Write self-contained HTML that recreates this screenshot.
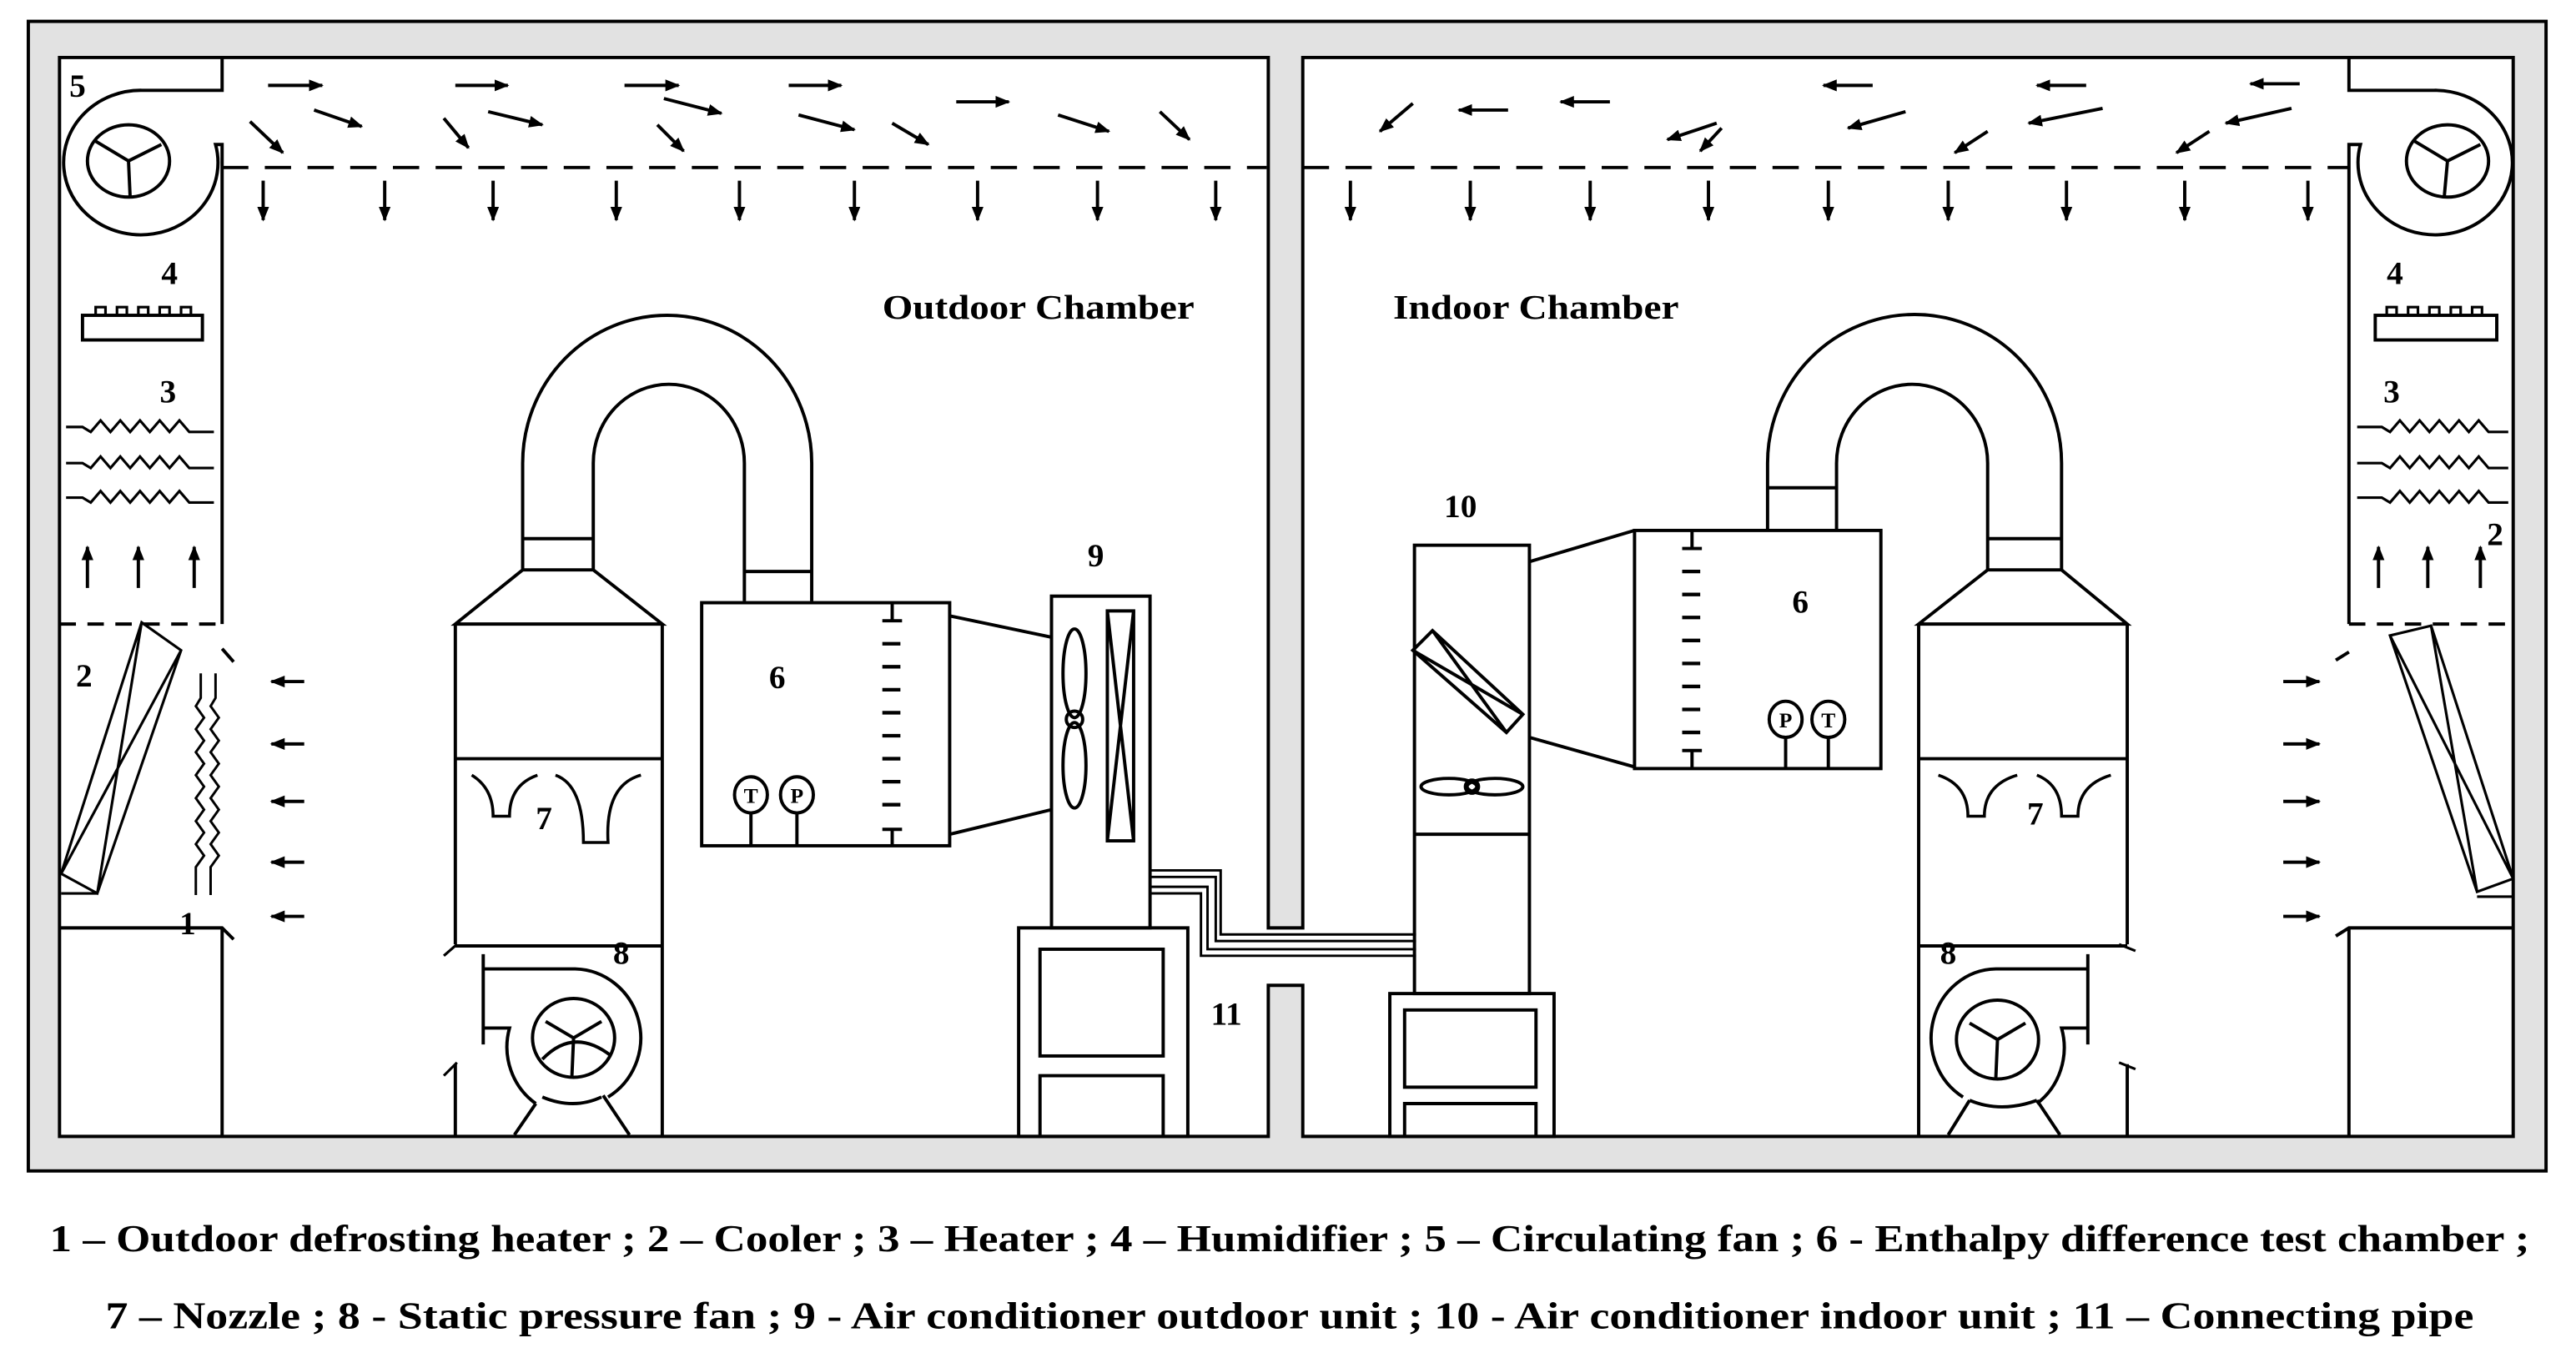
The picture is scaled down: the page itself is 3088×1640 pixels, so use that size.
<!DOCTYPE html>
<html><head><meta charset="utf-8"><style>
html,body{margin:0;padding:0;background:#fff;}
svg{display:block;}
text{font-family:"Liberation Serif",serif;font-weight:bold;fill:#000;}
</style></head><body>
<svg width="3088" height="1640" viewBox="0 0 1568 833" xmlns="http://www.w3.org/2000/svg">
<defs>
<marker id="ah" viewBox="0 0 10 10" refX="9" refY="5" markerWidth="4.5" markerHeight="4.5" orient="auto"><path d="M0,1 L10,5 L0,9 z" fill="#000"/></marker>
</defs>
<rect x="0" y="0" width="1568" height="833" fill="#fff"/>
<rect x="17" y="13" width="1533" height="700" fill="#e2e2e2" stroke="#000" stroke-width="2"/>
<rect x="36" y="35" width="736" height="657" fill="#fff"/>
<rect x="793" y="35" width="737" height="657" fill="#fff"/>
<rect x="771" y="565" width="23" height="35" fill="#fff"/>
<g fill="none" stroke="#000" stroke-width="2">
<path d="M36,692 V35 H772 V565 H793 V35 H1530 V692 H793 V600 H772 V692 Z"/>
<!-- left duct -->
<path d="M135,35 V55 H86 A47,44 0 1,0 131,88 H135 V380"/>
<path d="M135,102 H771" stroke-dasharray="16,10"/>
<path d="M36,380 H135" stroke-dasharray="10,7"/>
<path d="M135,395 L142,403"/>
<path d="M36,565 H135 L142,572 M135,565 V692"/>
<ellipse cx="78" cy="98" rx="25" ry="22"/>
<path d="M78,98 L58,86 M78,98 L98,88 M78,98 L79,120"/>
<rect x="50" y="192" width="73" height="15"/>
<path d="M58,192 v-5 h6 v5 M71,192 v-5 h6 v5 M84,192 v-5 h6 v5 M97,192 v-5 h6 v5 M110,192 v-5 h6 v5" stroke-width="1.6"/>
<path d="M40,260 H50 L55,263 L61,256 L67,263 L73,256 L79,263 L85,256 L91,263 L97,256 L103,263 L109,256 L115,263 H130" stroke-width="1.6"/>
<path d="M40,282 H50 L55,285 L61,278 L67,285 L73,278 L79,285 L85,278 L91,285 L97,278 L103,285 L109,278 L115,285 H130" stroke-width="1.6"/>
<path d="M40,303 H50 L55,306 L61,299 L67,306 L73,299 L79,306 L85,299 L91,306 L97,299 L103,306 L109,299 L115,306 H130" stroke-width="1.6"/>
<path d="M86,379 L110,396 L59,544 L37,532 Z M86,379 L59,544 M110,396 L37,532 M37,544 H59" stroke-width="1.6"/>
<path d="M122,410 V425 L119,430 L124,437 L119,444 L124,451 L119,458 L124,465 L119,472 L124,479 L119,486 L124,493 L119,500 L124,507 L119,514 L124,521 L119,528 V545" stroke-width="1.5"/>
<path d="M131,410 V425 L128,430 L133,437 L128,444 L133,451 L128,458 L133,465 L128,472 L133,479 L128,486 L133,493 L128,500 L133,507 L128,514 L133,521 L128,528 V545" stroke-width="1.5"/>
</g>
<g stroke="#000" stroke-width="2" fill="none" marker-end="url(#ah)">
<path d="M53,358 V333"/><path d="M84,358 V333"/><path d="M118,358 V333"/>
<path d="M185,415 H165"/><path d="M185,453 H165"/><path d="M185,488 H165"/><path d="M185,525 H165"/><path d="M185,558 H165"/>
<path d="M163,52 H196"/><path d="M277,52 H309"/><path d="M380,52 H413"/><path d="M480,52 H512"/><path d="M582,62 H614"/>
<path d="M152,74 L172,93"/><path d="M191,67 L220,77"/><path d="M270,72 L285,90"/><path d="M297,68 L330,76"/><path d="M400,76 L416,92"/><path d="M404,60 L439,69"/><path d="M486,70 L520,79"/><path d="M543,75 L565,88"/><path d="M644,70 L675,80"/><path d="M706,68 L724,85"/>
<path d="M160,110 V134"/><path d="M234,110 V134"/><path d="M300,110 V134"/><path d="M375,110 V134"/><path d="M450,110 V134"/><path d="M520,110 V134"/><path d="M595,110 V134"/><path d="M668,110 V134"/><path d="M740,110 V134"/>
<path d="M822,110 V134"/><path d="M895,110 V134"/><path d="M968,110 V134"/><path d="M1040,110 V134"/><path d="M1113,110 V134"/><path d="M1186,110 V134"/><path d="M1258,110 V134"/><path d="M1330,110 V134"/><path d="M1405,110 V134"/>
<path d="M1400,51 H1370"/><path d="M1270,52 H1240"/><path d="M1140,52 H1110"/><path d="M980,62 H950"/><path d="M918,67 H888"/>
<path d="M1395,66 L1355,75"/><path d="M1345,80 L1325,93"/><path d="M1280,66 L1235,75"/><path d="M1210,80 L1190,93"/><path d="M1160,68 L1125,78"/><path d="M1045,75 L1015,85"/><path d="M1048,78 L1035,92"/><path d="M860,63 L840,80"/>
<path d="M1448,358 V333"/><path d="M1478,358 V333"/><path d="M1510,358 V333"/>
<path d="M1390,415 H1412"/><path d="M1390,453 H1412"/><path d="M1390,488 H1412"/><path d="M1390,525 H1412"/><path d="M1390,558 H1412"/>
</g>
<g fill="none" stroke="#000" stroke-width="2">
<path d="M1430,35 V55 H1482 A47,44 0 1,1 1437,88 H1430 V380"/>
<path d="M793,102 H1430" stroke-dasharray="16,10"/>
<path d="M1430,380 H1530" stroke-dasharray="10,7"/>
<path d="M1430,397 L1422,402"/>
<path d="M1530,565 H1430 L1422,570 M1430,565 V692"/>
<ellipse cx="1490" cy="98" rx="25" ry="22"/>
<path d="M1490,98 L1470,86 M1490,98 L1510,88 M1490,98 L1488,120"/>
<rect x="1446" y="192" width="74" height="15"/>
<path d="M1453,192 v-5 h6 v5 M1466,192 v-5 h6 v5 M1479,192 v-5 h6 v5 M1492,192 v-5 h6 v5 M1505,192 v-5 h6 v5" stroke-width="1.6"/>
<path d="M1435,260 H1450 L1455,263 L1461,256 L1467,263 L1473,256 L1479,263 L1485,256 L1491,263 L1497,256 L1503,263 L1509,256 L1515,263 H1527" stroke-width="1.6"/>
<path d="M1435,282 H1450 L1455,285 L1461,278 L1467,285 L1473,278 L1479,285 L1485,278 L1491,285 L1497,278 L1503,285 L1509,278 L1515,285 H1527" stroke-width="1.6"/>
<path d="M1435,303 H1450 L1455,306 L1461,299 L1467,306 L1473,299 L1479,306 L1485,299 L1491,306 L1497,299 L1503,306 L1509,299 L1515,306 H1527" stroke-width="1.6"/>
<path d="M1480,381 L1455,387 L1508,543 L1530,535 Z M1480,381 L1508,543 M1455,387 L1530,535 M1508,546 H1530" stroke-width="1.6"/>

<path d="M277,380 L318,347 H361 L403,380 Z"/>
<path d="M403,380 V692 M277,380 V575 M277,648 V692"/>
<path d="M270,582 L278,575 M270,655 L278,647" stroke-width="1.6"/>
<path d="M277,462 H403 M277,576 H403"/>
<path d="M318,347 V282 A88,90 0 0,1 494,282 V366 M361,347 V282 A46,48 0 0,1 453,282 V366"/>
<path d="M318,328 H361 M453,348 H494"/>
<path d="M287,472 Q300,480 300,497 H310 Q310,478 327,472 M338,472 Q355,478 355,513 H370 Q368,478 390,472" stroke-width="1.8"/>
<path d="M294,581 V636 M294,590 H350 A41,42 0 0,1 370,668 M294,626 H310 A41,42 0 0,0 326,672"/>
<ellipse cx="349" cy="632" rx="25" ry="24"/>
<path d="M349,632 L332,622 M349,632 L366,622 M349,632 L348,655 M330,645 Q349,625 372,643"/>
<path d="M326,672 L313,691 M367,667 L383,691 M330,668 Q349,676 366,668"/>

<rect x="427" y="367" width="151" height="148"/>
<path d="M543,367 V378 M537,378 H549 M543,505 V515 M537,505 H549"/>
<path d="M537,392 h11 M537,406 h11 M537,420 h11 M537,434 h11 M537,448 h11 M537,462 h11 M537,476 h11 M537,490 h11" stroke-width="2.2"/>
<ellipse cx="457" cy="484" rx="10" ry="11"/><ellipse cx="485" cy="484" rx="10" ry="11"/>
<path d="M457,495 V515 M485,495 V515"/>
<path d="M578,375 L640,388 M578,508 L640,493"/>
<rect x="640" y="363" width="60" height="202"/>
<rect x="674" y="372" width="16" height="140"/>
<path d="M674,372 L690,512 M690,372 L674,512"/>
<ellipse cx="654" cy="410" rx="7" ry="27"/><ellipse cx="654" cy="466" rx="7" ry="26"/><circle cx="654" cy="438" r="5"/>
<rect x="620" y="565" width="103" height="127"/>
<rect x="633" y="578" width="75" height="65"/>
<path d="M633,692 V655 H708 V692"/>
<path d="M700,530 H743 V569 H862 M700,534 H740 V573 H862 M700,540 H735 V578 H862 M700,544 H731 V582 H862" stroke-width="1.5"/>
<rect x="861" y="332" width="70" height="273"/>
<path d="M861,508 H931"/>
<path d="M872,384 L927,435 L917,446 L860,396 Z M872,384 L917,446 M860,396 L927,435"/>
<ellipse cx="882" cy="479" rx="17" ry="5"/><ellipse cx="910" cy="479" rx="17" ry="5"/><circle cx="896" cy="479" r="4"/>
<rect x="846" y="605" width="100" height="87"/>
<rect x="855" y="615" width="80" height="47"/>
<path d="M855,692 V672 H935 V692"/>
<path d="M931,342 L995,323 M931,449 L995,467"/>
<rect x="995" y="323" width="150" height="145"/>
<path d="M1030,323 V334 M1024,334 H1036 M1030,457 V468 M1024,457 H1036"/>
<path d="M1024,348 h11 M1024,362 h11 M1024,376 h11 M1024,390 h11 M1024,404 h11 M1024,418 h11 M1024,432 h11 M1024,446 h11" stroke-width="2.2"/>
<ellipse cx="1087" cy="438" rx="10" ry="11"/><ellipse cx="1113" cy="438" rx="10" ry="11"/>
<path d="M1087,449 V468 M1113,449 V468"/>
<path d="M1168,380 L1210,347 H1255 L1295,380 Z"/>
<path d="M1168,380 V692 M1295,380 V575 M1295,648 V692"/>
<path d="M1290,575 L1300,579 M1290,647 L1300,651" stroke-width="1.6"/>
<path d="M1168,462 H1295 M1168,576 H1295"/>
<path d="M1076,323 V282 A89,90 0 0,1 1255,282 V347 M1118,323 V282 A46,48 0 0,1 1210,282 V347"/>
<path d="M1076,297 H1118 M1210,328 H1255"/>
<path d="M1180,472 Q1198,478 1198,497 H1208 Q1208,478 1228,472 M1240,472 Q1255,478 1255,497 H1265 Q1265,478 1285,472" stroke-width="1.8"/>
<path d="M1271,581 V636 M1271,590 H1215 A40,42 0 0,0 1195,668 M1271,626 H1255 A40,42 0 0,1 1240,672"/>
<ellipse cx="1216" cy="633" rx="25" ry="24"/>
<path d="M1216,633 L1199,623 M1216,633 L1233,623 M1216,633 L1215,656"/>
<path d="M1199,670 L1186,691 M1240,670 L1254,691 M1199,670 Q1218,678 1240,670"/>
</g>
<g font-size="20">
<text x="42" y="59">5</text><text x="98" y="173">4</text><text x="97" y="245">3</text><text x="46" y="418">2</text><text x="109" y="569">1</text>
<text x="1453" y="173">4</text><text x="1451" y="245">3</text><text x="1514" y="332">2</text>
<text x="468" y="419">6</text><text x="326" y="505">7</text><text x="373" y="587">8</text>
<text x="662" y="345">9</text><text x="879" y="315">10</text><text x="737" y="624">11</text>
<text x="1091" y="373">6</text><text x="1234" y="502">7</text><text x="1181" y="587">8</text>
</g>
<g font-size="13" text-anchor="middle">
<text x="457" y="489">T</text><text x="485" y="489">P</text>
<text x="1087" y="443">P</text><text x="1113" y="443">T</text>
</g>
<text x="537" y="194" font-size="21" textLength="190" lengthAdjust="spacingAndGlyphs">Outdoor Chamber</text>
<text x="848" y="194" font-size="21" textLength="174" lengthAdjust="spacingAndGlyphs">Indoor Chamber</text>
<text x="30" y="762" font-size="23" textLength="1510" lengthAdjust="spacingAndGlyphs">1 – Outdoor  defrosting  heater ;  2 – Cooler ;  3 – Heater ;  4 – Humidifier ;  5 – Circulating  fan ;  6 - Enthalpy  difference  test  chamber ;</text>
<text x="64" y="809" font-size="23" textLength="1442" lengthAdjust="spacingAndGlyphs">7 – Nozzle ;  8 - Static  pressure  fan ;  9 - Air  conditioner  outdoor  unit ;  10 - Air  conditioner  indoor  unit ;  11 – Connecting  pipe</text>
</svg>
</body></html>
